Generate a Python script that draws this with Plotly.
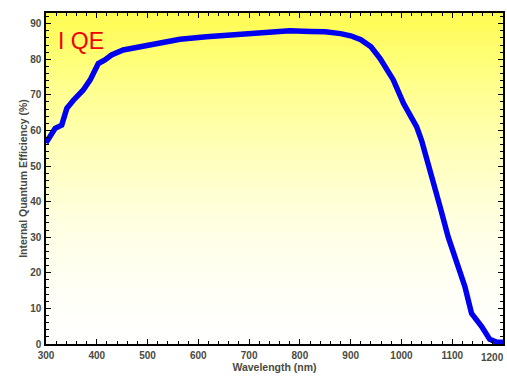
import plotly.graph_objects as go

# Data
wavelength = [300, 305, 318, 331, 341, 354, 373, 387, 403, 416, 429, 452, 498, 518, 564,
              616, 669, 700, 740, 780, 820, 850, 880, 900, 920, 940, 958, 984, 1004,
              1030, 1040, 1050, 1060, 1076, 1092, 1109, 1125, 1138, 1158, 1174, 1188, 1200]
iqe = [56.5, 57.8, 60.6, 61.5, 66.2, 68.5, 71.3, 74.2, 78.8, 79.8, 81.2, 82.6, 83.7, 84.5, 85.6,
       86.3, 86.8, 87.3, 87.6, 88.0, 87.8, 87.7, 87.2, 86.6, 85.5, 83.5, 80.2, 74.2, 67.6,
       61.0, 57.0, 51.5, 46.0, 38.6, 30.1, 22.7, 16.1, 8.6, 4.9, 1.3, 0.5, 0.5]

x_ticks = [300, 400, 500, 600, 700, 800, 900, 1000, 1100, 1200]
y_ticks = [0, 10, 20, 30, 40, 50, 60, 70, 80, 90]

# background gradient stops: (fraction from bottom, blue channel)
grad_stops = [(0.0, 255), (0.17, 246), (0.38, 224), (0.59, 184), (0.8, 136), (1.0, 80)]

def blue_at(t):
    for (t0, b0), (t1, b1) in zip(grad_stops[:-1], grad_stops[1:]):
        if t0 <= t <= t1:
            return b0 + (b1 - b0) * (t - t0) / (t1 - t0)
    return grad_stops[-1][1]

shapes = []
n_bands = 150
for i in range(n_bands):
    t0 = i / n_bands
    t1 = (i + 1) / n_bands
    b = int(round(blue_at((t0 + t1) / 2)))
    g = 255 if (t0 + t1) / 2 < 0.9 else 252
    shapes.append(dict(type="rect", xref="paper", yref="paper", x0=0, x1=1, y0=t0, y1=t1 + 0.002,
                       fillcolor=f"rgb(255,{g},{b})", line=dict(width=0), layer="below"))

fig = go.Figure()
fig.add_trace(go.Scatter(x=wavelength, y=iqe, mode="lines",
                         line=dict(color="#0000F0", width=5.5), showlegend=False))

font_family = "Liberation Sans, Arial"
label_color = "#4a4a40"
tickfont = dict(family=font_family, size=10, color=label_color, weight="bold")
title_font = dict(family=font_family, size=10.5, color=label_color, weight="bold")
axis_common = dict(showline=True, linecolor="black", linewidth=1.5, mirror="ticks",
                   ticks="inside", ticklen=5, tickwidth=1.2, tickcolor="black",
                   showgrid=False, zeroline=False, tickfont=tickfont, automargin=False)

fig.update_layout(
    width=507, height=378,
    margin=dict(l=46, r=4, t=13, b=34, autoexpand=False),
    paper_bgcolor="white", plot_bgcolor="white",
    shapes=shapes,
    xaxis=dict(range=[300, 1200], tickvals=x_ticks, ticklabelstandoff=1,
               minor=dict(dtick=20, ticks="inside", ticklen=3, tickcolor="black", tickwidth=1),
               title=dict(text="Wavelength (nm)", font=title_font, standoff=2),
               **axis_common),
    yaxis=dict(range=[0, 93], tickvals=y_ticks, ticklabelstandoff=1,
               minor=dict(dtick=2, ticks="inside", ticklen=3, tickcolor="black", tickwidth=1),
               title=dict(text="Internal Quantum Efficiency (%)", font=title_font, standoff=0),
               **axis_common),
    annotations=[
        dict(text="I QE", xref="paper", yref="paper", x=0.022, y=0.915,
             xanchor="left", yanchor="middle", showarrow=False,
             font=dict(family=font_family, size=23, color="#ee0000")),
        dict(text=str(x_ticks[-1]), xref="paper", yref="paper", x=1.006, y=-0.018,
             xanchor="right", yanchor="top", showarrow=False, font=tickfont),
    ],
)

fig.write_html("out.html", config={"responsive": False, "displayModeBar": False},
               post_script="document.body.style.margin='0';document.body.style.overflow='hidden';")
